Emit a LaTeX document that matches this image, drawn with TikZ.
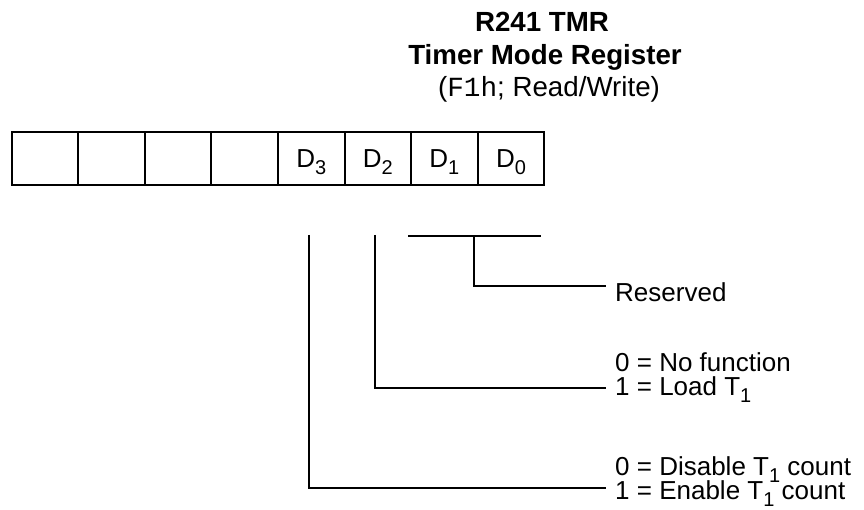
\documentclass[tikz,border=0pt]{standalone}
\usepackage{fontspec}
\setmainfont{Liberation Sans}
\setmonofont{Liberation Mono}
\newcommand\subs[1]{\raisebox{-7pt}{\fontsize{20}{20}\selectfont #1}}
\begin{document}
\begin{tikzpicture}[x=1pt,y=-1pt,
  every node/.style={font=\fontsize{26}{30}\selectfont, inner sep=0pt},
  cell/.style={draw, line width=2pt, minimum width=66.6pt, minimum height=53pt, text height=18.7pt, text depth=0pt},
  conn/.style={line width=1.8pt},
  txt/.style={anchor=base west},
  ttl/.style={anchor=base, font=\fontsize{27.7}{32}\selectfont}]
\useasboundingbox (0,0) rectangle (864,510);
% title
\node[ttl] (t1) at (542,31.7) {\bfseries R241 TMR};
\node[ttl] (t2) at (545,64.3) {\bfseries Timer Mode Register};
\node[ttl] (t3) at (549,96.7) {(\texttt{F1h}; Read/Write)};
% register cells
\node[cell] (c7) at (44.8,158.5) {};
\node[cell] (c6) at (111.4,158.5) {};
\node[cell] (c5) at (178.0,158.5) {};
\node[cell] (c4) at (244.6,158.5) {};
\node[cell] (c3) at (311.2,158.5) {D\subs{3}};
\node[cell] (c2) at (377.8,158.5) {D\subs{2}};
\node[cell] (c1) at (444.4,158.5) {D\subs{1}};
\node[cell] (c0) at (511.0,158.5) {D\subs{0}};
% descriptions
\node[txt] (res) at (615,301.7) {Reserved};
\node[txt] (nf) at (615,371.7) {0 = No function};
\node[txt] (ld) at (615,395.5) {1 = Load T\subs{1}};
\node[txt] (dis) at (615,475) {0 = Disable T\subs{1} count};
\node[txt] (en) at (615,499.3) {1 = Enable T\subs{1} count};
% connector points
\coordinate (d3top) at (309,235);
\coordinate (d3end) at (606,488);
\coordinate (d2top) at (375,235);
\coordinate (d2end) at (606,388);
\coordinate (d10l) at (408,235.7);
\coordinate (d10r) at (541,235.7);
\coordinate (d10m) at (474,235.7);
\coordinate (d10end) at (606,286);
% connectors
\draw[conn] (d3top) |- (d3end);
\draw[conn] (d2top) |- (d2end);
\draw[conn] (d10l) -- (d10r);
\draw[conn] (d10m) |- (d10end);
\end{tikzpicture}
\end{document}
